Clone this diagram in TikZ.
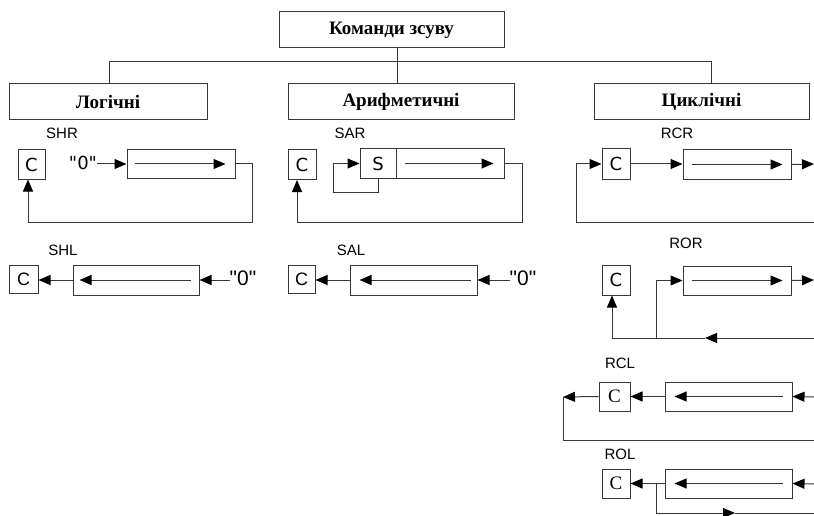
\documentclass[tikz,border=0pt]{standalone}
\usepackage{fontspec}
\setmainfont{Liberation Serif}
\newfontfamily\arialf{Liberation Sans}
\newfontfamily\dejaf{DejaVu Sans}
\usetikzlibrary{arrows.meta}
\begin{document}
\begin{tikzpicture}[x=1pt,y=-1pt,
  ln/.style={draw=black!78, line width=1pt},
  arr/.style={ln, -{Triangle[length=12pt,width=10pt,color=black]}},
  hdr/.style={ln, rectangle, inner sep=0pt, font=\bfseries\fontsize{19}{19}\selectfont},
  cell/.style={ln, rectangle, inner sep=0pt},
  lbl/.style={inner sep=0pt, font=\arialf\fontsize{15}{15}\selectfont},
  cdv/.style={cell, font=\dejaf\fontsize{18}{18}\selectfont},
  car/.style={cell, font=\arialf\fontsize{18}{18}\selectfont},
  cse/.style={cell, font=\fontsize{19}{19}\selectfont},
  zero/.style={inner sep=0pt, font=\arialf\fontsize{21}{21}\selectfont},
  zerod/.style={inner sep=0pt, font=\dejaf\fontsize{18}{18}\selectfont}
]
\useasboundingbox (0,0) rectangle (814,516);
% headers
\node[hdr, minimum width=225pt, minimum height=36pt] (top) at (391.5,30) {Команди зсуву};
\node[hdr, minimum width=198pt, minimum height=36pt] (log) at (108,102) {Логічні};
\node[hdr, minimum width=226pt, minimum height=36pt] (ari) at (401,102) {Арифметичні};
\node[hdr, minimum width=215pt, minimum height=36pt] (cyc) at (701.5,102) {Циклічні};
\coordinate (j) at (397,62);
\coordinate (jl) at (109,62);
\coordinate (jr) at (711,62);
\draw[ln] (top.south -| j) -- (ari.north -| j);
\draw[ln] (log.north -| jl) -- (jl) -- (jr) -- (cyc.north -| jr);

% ---------- SHR ----------
\node[lbl] (lshr) at (62,133) {SHR};
\node[cdv, minimum width=27pt, minimum height=29pt] (c1) at (31.5,164.5) {C};
\node[cell, minimum width=108pt, minimum height=28pt] (r1) at (181,164) {};
\node[zerod] (z1) at (83,163) {"0"};
\draw[arr] (z1.east |- r1.west) -- (r1.west);
\draw[arr] ([xshift=8pt]r1.west) -- ([xshift=-10pt]r1.east);
\coordinate (f1a) at (252,222);
\coordinate (f1b) at (28,222);
\draw[arr] (r1.east) -- (r1.east -| f1a) -- (f1a) -- (f1b) -- (c1.south -| f1b);

% ---------- SHL ----------
\node[lbl] (lshl) at (63,250) {SHL};
\node[car, minimum width=29pt, minimum height=28pt] (c2) at (23.5,279) {C};
\node[cell, minimum width=126pt, minimum height=30pt] (r2) at (136,280) {};
\node[zero] (z2) at (243,278) {"0"};
\draw[arr] ([xshift=-9pt]r2.east) -- ([xshift=7pt]r2.west);
\draw[arr] (r2.west) -- (r2.west -| c2.east);
\draw[arr] (z2.west |- r2.east) -- (r2.east);

% ---------- SAR ----------
\node[lbl] (lsar) at (350,133) {SAR};
\node[cdv, minimum width=28pt, minimum height=30pt] (c3) at (302,164.5) {C};
\node[cdv, minimum width=36pt, minimum height=29pt] (s3) at (378,163.5) {S};
\node[cell, minimum width=108pt, minimum height=29pt] (r3) at (450,163.5) {};
\draw[arr] ([xshift=9pt]r3.west) -- ([xshift=-11pt]r3.east);
\coordinate (s3a) at (333,192);
\draw[arr] (s3.south) -- (s3.south |- s3a) -- (s3a) -- (s3a |- s3.west) -- (s3.west);
\coordinate (f3a) at (522,222);
\coordinate (f3b) at (297,222);
\draw[arr] (r3.east) -- (r3.east -| f3a) -- (f3a) -- (f3b) -- (c3.south -| f3b);

% ---------- SAL ----------
\node[lbl] (lsal) at (351,250) {SAL};
\node[car, minimum width=27pt, minimum height=28pt] (c4) at (301.5,279) {C};
\node[cell, minimum width=127pt, minimum height=30pt] (r4) at (413.5,280) {};
\node[zero] (z4) at (523,278) {"0"};
\draw[arr] ([xshift=-7pt]r4.east) -- ([xshift=10pt]r4.west);
\draw[arr] (r4.west) -- (r4.west -| c4.east);
\draw[arr] (z4.west |- r4.east) -- (r4.east);

% ---------- RCR ----------
\node[lbl] (lrcr) at (677,133) {RCR};
\node[cdv, minimum width=28pt, minimum height=30pt] (c5) at (616,164) {C};
\node[cell, minimum width=108pt, minimum height=29pt] (r5) at (737,164.5) {};
\draw[arr] (c5.east) -- (c5.east -| r5.west);
\draw[arr] ([xshift=9pt]r5.west) -- ([xshift=-9pt]r5.east);
\coordinate (e5) at (814,164);
\draw[arr] (r5.east) -- (e5);
\coordinate (f5a) at (814,222);
\coordinate (f5b) at (576,222);
\draw[arr] (f5a) -- (f5b) -- (f5b |- c5.west) -- (c5.west);

% ---------- ROR ----------
\node[lbl] (lror) at (686,243) {ROR};
\node[cdv, minimum width=28pt, minimum height=30pt] (c6) at (616,280) {C};
\node[cell, minimum width=108pt, minimum height=29pt] (r6) at (737,280.5) {};
\draw[arr] ([xshift=9pt]r6.west) -- ([xshift=-9pt]r6.east);
\coordinate (e6) at (814,280);
\draw[arr] (r6.east) -- (e6);
\coordinate (f6a) at (814,338);
\coordinate (f6m) at (705,338);
\coordinate (f6b) at (612,338);
\coordinate (f6j) at (656,338);
\draw[arr] (f6a) -- (f6m);
\draw[arr] (f6m) -- (f6b) -- (c6.south -| f6b);
\draw[arr] (f6j) -- (f6j |- r6.west) -- (r6.west);

% ---------- RCL ----------
\node[lbl] (lrcl) at (620,363) {RCL};
\node[cse, minimum width=31pt, minimum height=29pt] (c7) at (614.5,396.5) {C};
\node[cell, minimum width=127pt, minimum height=29pt] (r7) at (728.5,396.5) {};
\draw[arr] ([xshift=-10pt]r7.east) -- ([xshift=10pt]r7.west);
\draw[arr] (r7.west) -- (r7.west -| c7.east);
\coordinate (f7a) at (563,397);
\coordinate (f7b) at (563,440);
\coordinate (f7c) at (814,440);
\draw[arr] (c7.west) -- (f7a);
\draw[ln] (f7a) -- (f7b) -- (f7c);
\coordinate (e7) at (814,397);
\draw[arr] (e7) -- (r7.east);

% ---------- ROL ----------
\node[lbl] (lrol) at (620,454) {ROL};
\node[cse, minimum width=28pt, minimum height=29pt] (c8) at (616,483.5) {C};
\node[cell, minimum width=127pt, minimum height=29pt] (r8) at (728.5,483.5) {};
\draw[arr] ([xshift=-10pt]r8.east) -- ([xshift=10pt]r8.west);
\draw[arr] (r8.west) -- (r8.west -| c8.east);
\coordinate (f8j) at (656,484);
\coordinate (f8b) at (656,513);
\coordinate (f8m) at (735,513);
\coordinate (f8c) at (814,513);
\draw[arr] (f8j) -- (f8b) -- (f8m);
\draw[ln] (f8m) -- (f8c);
\coordinate (e8) at (814,484);
\draw[arr] (e8) -- (r8.east);
\end{tikzpicture}
\end{document}
